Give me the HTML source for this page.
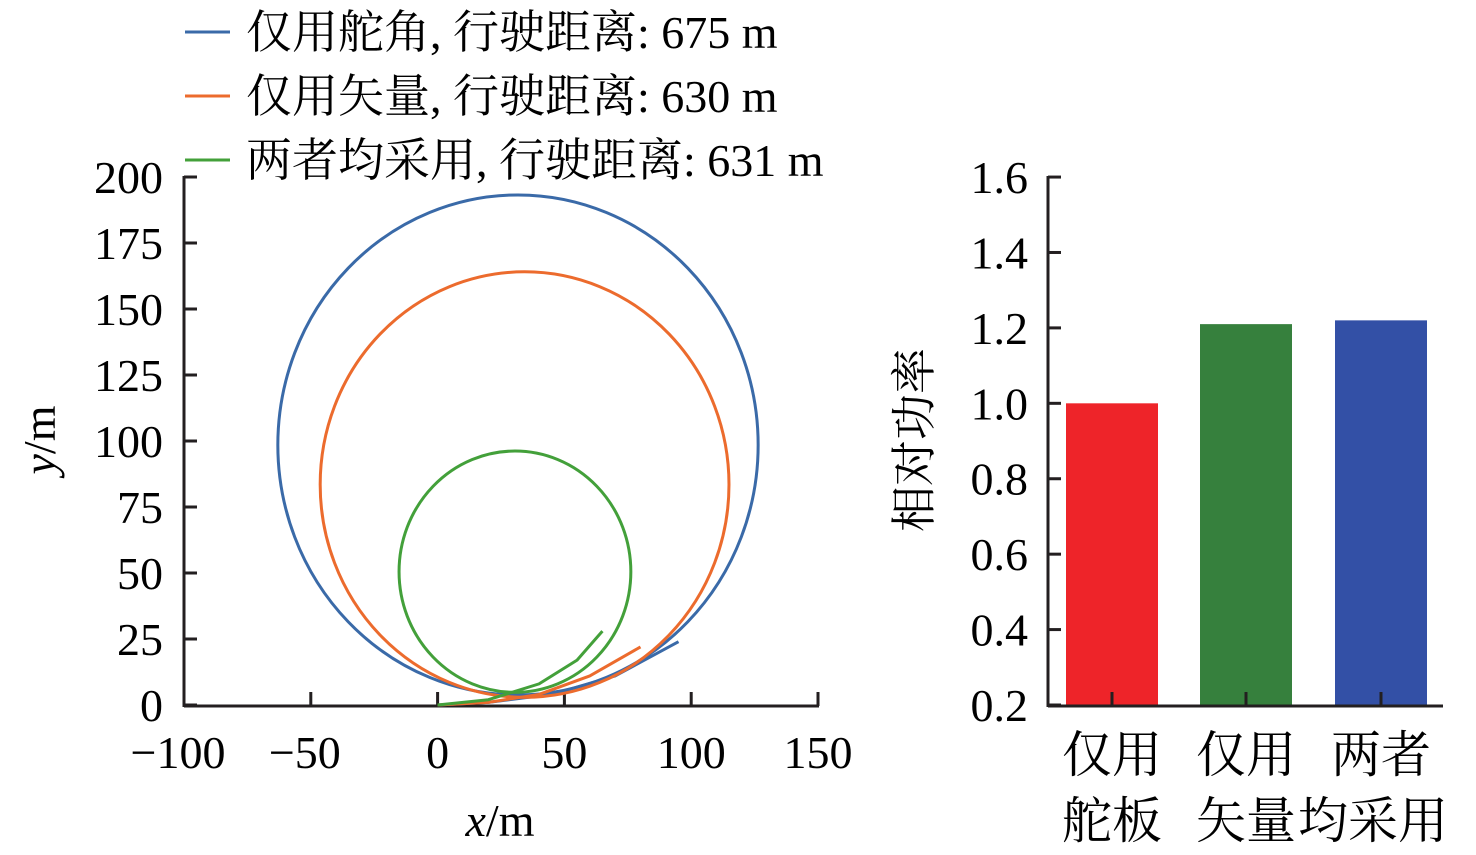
<!DOCTYPE html>
<html><head><meta charset="utf-8"><style>
body{margin:0;background:#fff}
svg{display:block;font-family:"Liberation Serif","Noto Serif CJK SC",serif}
</style></head><body>
<svg id="c" width="1476" height="855" viewBox="0 0 1476 855"></svg>
<script>
// ---- trajectory data (circle fits + lead-in points), units m ----
const seriesNames = ["仅用舵角, 行驶距离: 675 m","仅用矢量, 行驶距离: 630 m","两者均采用, 行驶距离: 631 m"];
const seriesColors = ["#3a6aa8","#ec6b2d","#43a03a"];
const circleCx = [31.7, 34.3, 30.5];
const circleCy = [98.5, 83.5, 50.5];
const circleR = [94.7, 80.6, 45.7];
const leadX = [[0,20,45,70,95],[0,20,40,60,80],[0,20,40,55,65]];
const leadY = [[0,1,4,11,24],[0,1,4,11,22],[0,2,8,17,28]];
const xTicks = [-100,-50,0,50,100,150];
const yTicks = [0,25,50,75,100,125,150,175,200];
// ---- bar data ----
const barCats = [["仅用","舵板"],["仅用","矢量"],["两者","均采用"]];
const barVals = [1.0, 1.21, 1.22];
const barColors = ["#ee2429","#36803d","#3350a6"];
const barTicks = [0.2,0.4,0.6,0.8,1.0,1.2,1.4,1.6];

const NS="http://www.w3.org/2000/svg", svg=document.getElementById('c');
function mk(t,a,p){const e=document.createElementNS(NS,t);for(const k in a)e.setAttribute(k,a[k]);(p||svg).appendChild(e);return e;}
const X=v=>437.6+(v)*2.536, Y=v=>705-v*2.64;
const BY=v=>705-(v-0.2)*377.1;

// left axes
let e=mk('line',{x1:184,y1:706,x2:819,y2:706,stroke:'#231f20','stroke-width':3});


e=mk('line',{x1:184,y1:176,x2:184,y2:707,stroke:'#231f20','stroke-width':3});


xTicks.forEach(v=>{
  e=mk('line',{x1:X(v),y1:706,x2:X(v),y2:692,stroke:'#231f20','stroke-width':3});
  
  
  e=mk('text',{x:X(v)+(v<0?-6:0),y:768,'text-anchor':'middle','font-size':46});
  e.textContent=v<0?'\u2212'+(-v):String(v);
  
  
});
yTicks.forEach(v=>{
  e=mk('line',{x1:184,y1:Y(v),x2:197,y2:Y(v),stroke:'#231f20','stroke-width':3});
  
  
  e=mk('text',{x:163,y:Y(v)+16,'text-anchor':'end','font-size':46});
  e.textContent=v;
  
  
});
e=mk('text',{x:500,y:836,'text-anchor':'middle','font-size':46});
e.innerHTML='<tspan font-style="italic">x</tspan>/m';


e=mk('text',{x:0,y:0,'text-anchor':'middle','font-size':46,transform:'translate(55,440) rotate(-90)'});
e.innerHTML='<tspan font-style="italic">y</tspan>/m';



// trajectories
seriesNames.forEach((n,i)=>{
  const cx=X(circleCx[i]), cy=Y(circleCy[i]), rx=circleR[i]*2.536, ry=circleR[i]*2.64;
  e=mk('ellipse',{cx:cx,cy:cy,rx:rx,ry:ry,fill:'none',stroke:seriesColors[i],'stroke-width':3});
  
  
  let d='M'+X(leadX[i][0])+','+Y(leadY[i][0]);
  for(let k=1;k<leadX[i].length;k++) d+=' L'+X(leadX[i][k])+','+Y(leadY[i][k]);
  e=mk('path',{d:d,fill:'none',stroke:seriesColors[i],'stroke-width':3,'stroke-linejoin':'round'});
  
  
  // legend
  const ly=32+i*64;
  e=mk('line',{x1:185,y1:ly,x2:230,y2:ly,stroke:seriesColors[i],'stroke-width':3});
  
  
  e=mk('text',{x:246,y:ly+16,'font-size':46});
  e.textContent=n;
  
  
});

// bar chart
e=mk('line',{x1:1048,y1:176,x2:1048,y2:707,stroke:'#231f20','stroke-width':3});


const bx=[1066,1200,1335], bw=92;
barVals.forEach((v,i)=>{
  e=mk('rect',{x:bx[i],y:BY(v),width:bw,height:705-BY(v),fill:barColors[i]});
  
  
  e=mk('line',{x1:bx[i]+bw/2,y1:705,x2:bx[i]+bw/2,y2:692,stroke:'#231f20','stroke-width':3});
  
  
  barCats[i].forEach((s,j)=>{
    e=mk('text',{x:bx[i]+bw/2+(j===1&&i===2?-8:0)+(i===2&&j===0?0:0),y:772+j*66,'text-anchor':'middle','font-size':50});
    e.textContent=s;
    
    
  });
});
e=mk('line',{x1:1048,y1:706,x2:1443,y2:706,stroke:'#231f20','stroke-width':3});


barTicks.forEach(v=>{
  e=mk('line',{x1:1048,y1:BY(v),x2:1061,y2:BY(v),stroke:'#231f20','stroke-width':3});
  
  
  e=mk('text',{x:1028,y:BY(v)+16,'text-anchor':'end','font-size':46});
  e.textContent=v.toFixed(1);
  
  
});
e=mk('text',{x:0,y:0,'text-anchor':'middle','font-size':46,transform:'translate(930,440) rotate(-90)'});
e.textContent='相对功率';


</script>
</body></html>
